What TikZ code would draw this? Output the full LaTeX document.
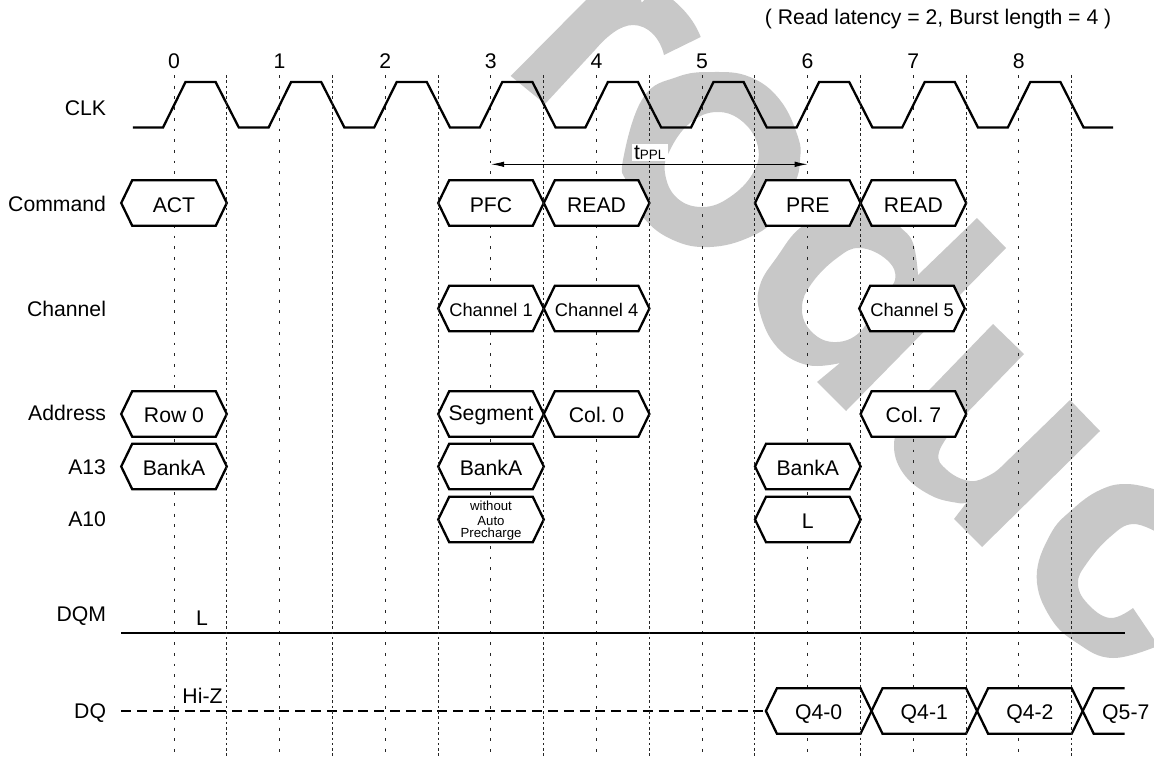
\documentclass[tikz,border=0pt]{standalone}
\usepackage{fontspec}
\setmainfont{Liberation Sans}
\usetikzlibrary{arrows.meta}
\definecolor{wm}{HTML}{C8C8C8}
\newcommand{\sz}[1]{\fontsize{#1}{#1}\selectfont}
\tikzset{
  lbl/.style={inner sep=0pt,outer sep=0pt,font=\sz{21.2}},
  sig/.style={line width=2.3pt,line join=miter,miter limit=10},
  sigbox/.style={sig,draw=black,fill=white},
  numline/.style={line width=1pt,dash pattern=on 2.8pt off 7.9pt,black!85},
  halfline/.style={line width=1pt,dash pattern=on 2.6pt off 2.7pt,black!85},
  wmfill/.style={fill=wm,draw=none},
}
\newcommand{\hexbox}[6][21.2]{% size, name, cx, cy, baseline, text
  \path[sigbox] (#3-52.8,#4)--(#3-41.8,#4-22.7)--(#3+41.8,#4-22.7)--(#3+52.8,#4)--(#3+41.8,#4+22.7)--(#3-41.8,#4+22.7)--cycle;
  \node[lbl,anchor=base,font=\sz{#1}] (#2) at (#3,#5) {#6};
}
\begin{document}
\frenchspacing
\begin{tikzpicture}[x=1pt,y=-1pt]
\useasboundingbox (0,0) rectangle (1154,758);
\begin{scope}
\clip (0,0) rectangle (1154,758);
% watermark r
\fill[wmfill] (510.7,76)--(590,-4)--(640,-4)--(641.7,2.7)--(648,-4)--(668,-4)
  .. controls (684,8) and (695,22) .. (700.7,37)--(664,55)
  .. controls (660,38) and (648,25) .. (633,25)
  .. controls (620,25) and (606,37) .. (595,50)--(545,104)--cycle;
% watermark o
\fill[wmfill,even odd rule]
  plot[smooth cycle,tension=.7] coordinates {(643,98)(677,77)(713,72)(750,77)(780,100)(798,137)(800,160)(795,183)(777,217)(750,237)(710,247)(673,240)(643,217)(627,183)(623,160)}
  plot[smooth cycle,tension=.7] coordinates {(717,112)(743,122)(758,147)(753,173)(730,197)(703,207)(677,198)(665,173)(670,150)(690,123)};
% watermark q
\fill[wmfill,even odd rule]
  (977,218)--(1006,248)--(846,411)--(817,382)--(840,363)
  -- plot[smooth,tension=.7] coordinates {(840,363)(807,365)(777,347)(760,313)(760,285)(777,257)(800,228)(830,214)(860,208)(885,214)(900,227)(913,243)(918,275)}
  --cycle
  plot[smooth cycle,tension=.7] coordinates {(860,248)(887,260)(895,280)(878,300)(860,332)(833,342)(810,330)(802,307)(812,283)(837,258)};
% watermark u
\fill[wmfill]
  (993,324)--(1024,354)--(960,420)
  -- plot[smooth,tension=.7] coordinates {(960,420)(939,452)(947,470)(970,481)(990,475)(1002,466)}
  --(1070,400)--(1100,431)--(982,547)--(954,519)--(967,502)
  -- plot[smooth,tension=.7] coordinates {(967,502)(958,503)(930,495)(903,473)(894,443)(905,415)}
  --cycle;
% watermark c
\fill[wmfill]
  plot[smooth,tension=.7] coordinates {(1160,491)(1128,484)(1100,490)(1071.7,510)(1050,535)(1036.7,576.7)(1050,617)(1077,643)(1113,658)(1160,645)}
  --(1160,648)--(1133,608)
  -- plot[smooth,tension=.7] coordinates {(1133,608)(1110,618)(1087,603)(1078,583)(1087,563)(1110,537)(1133,524)(1160,534)}
  --cycle;
\end{scope}
% vertical timing lines
\foreach \i in {0,...,8}{
  \pgfmathsetmacro{\xn}{174+105.6*\i}
  \pgfmathsetmacro{\xh}{226.9+105.6*\i}
  \coordinate (nt\i) at (\xn,75);
  \coordinate (nb\i) at (\xn,758);
  \coordinate (ht\i) at (\xh,75);
  \coordinate (hb\i) at (\xh,758);
  \draw[numline] (nt\i)--(nb\i);
  \node[lbl,anchor=base] (num\i) at (\xn,68) {\i};
}
% CLK
\draw[sig] (132.8,127.5)
  \foreach \i in {0,...,8}{ -- ({163+105.6*\i},127.5) -- ({185.5+105.6*\i},82) -- ({215.6+105.6*\i},82) -- ({238.8+105.6*\i},127.5)} -- (1113,127.5);
% DQM / DQ
\coordinate (dqma) at (121.4,632.7);
\coordinate (dqmb) at (1124.6,632.7);
\draw[sig] (dqma)--(dqmb);
\coordinate (dqa) at (121.4,711);
\coordinate (dqb) at (765.9,711);
\draw[line width=2.3pt,dash pattern=on 10pt off 5.8pt] (dqa)--(dqb);
% left labels
\node[lbl,anchor=base east] (lclk) at (106,115.7) {CLK};
\node[lbl,anchor=base east] (lcmd) at (106,211) {Command};
\node[lbl,anchor=base east] (lch) at (106,316.7) {Channel};
\node[lbl,anchor=base east] (ladr) at (106,420.7) {Address};
\node[lbl,anchor=base east] (la13) at (106,474) {A13};
\node[lbl,anchor=base east] (la10) at (106,526.7) {A10};
\node[lbl,anchor=base east] (ldqm) at (106,621.7) {DQM};
\node[lbl,anchor=base east] (ldq) at (106,718.3) {DQ};
% command row
\hexbox{cact}{174}{203}{212}{ACT}
\hexbox{cpfc}{491}{203}{212}{PFC}
\hexbox{crd1}{596.6}{203}{212}{READ}
\hexbox{cpre}{807.8}{203}{212}{PRE}
\hexbox{crd2}{913.4}{203}{212}{READ}
% channel row
\hexbox[18.3]{ch1}{491}{308.5}{316.7}{Channel 1}
\hexbox[18.3]{ch4}{596.6}{308.5}{316.2}{Channel 4}
\hexbox[18.3]{ch5}{912}{308.5}{316.7}{Channel 5}
% address row
\hexbox{arow}{174}{414}{422.7}{Row 0}
\hexbox{aseg}{491}{414}{420.7}{Segment}
\hexbox{acol0}{596.6}{414}{422.7}{Col. 0}
\hexbox{acol7}{913.4}{414}{422.7}{Col. 7}
% A13 row
\hexbox{ba1}{174}{466.5}{475}{BankA}
\hexbox{ba2}{491}{466.5}{475}{BankA}
\hexbox{ba3}{807.8}{466.5}{475}{BankA}
% A10 row
\path[sigbox] (491-52.8,519.5)--(491-41.8,496.8)--(491+41.8,496.8)--(491+52.8,519.5)--(491+41.8,542.2)--(491-41.8,542.2)--cycle;
\node[lbl,anchor=base,font=\sz{13.2}] (a10a) at (491,510.7) {without};
\node[lbl,anchor=base,font=\sz{13.2}] (a10b) at (491,525) {Auto};
\node[lbl,anchor=base,font=\sz{13.2}] (a10c) at (491,537.7) {Precharge};
\hexbox{a10l}{807.8}{519.5}{528}{L}
% DQ
\hexbox{q40}{818.7}{711}{719.3}{Q4-0}
\hexbox{q41}{924.3}{711}{719.3}{Q4-1}
\hexbox{q42}{1029.9}{711}{719.3}{Q4-2}
\draw[sig] (1124.6,688.3)--(1093.7,688.3)--(1082.7,711)--(1093.7,733.7)--(1124.6,733.7);
\node[lbl,anchor=base] (q57) at (1125.8,719.3) {Q5-7};
% half-clock lines on top
\foreach \i in {0,...,8}{ \draw[halfline] (ht\i)--(hb\i); }
% tPPL
\coordinate (ta) at (491,164.3);
\coordinate (tb) at (807.7,164.3);
\draw[line width=1pt,{Latex[length=13pt,width=5.5pt]}-{Latex[length=13pt,width=5.5pt]}] (ta)--(tb);
\node[lbl,anchor=base,fill=white,inner xsep=2.5pt,inner ysep=1.5pt] (tppl) at (649.7,159) {t{\sz{13.5}PPL}};
% other text
\node[lbl,anchor=base] (lL) at (202,625) {L};
\node[lbl,anchor=base] (lhiz) at (202.5,703) {Hi-Z};
\node[lbl,anchor=base east] (note) at (1111.3,24) {( Read latency = 2, Burst length = 4 )};
\end{tikzpicture}
\end{document}
